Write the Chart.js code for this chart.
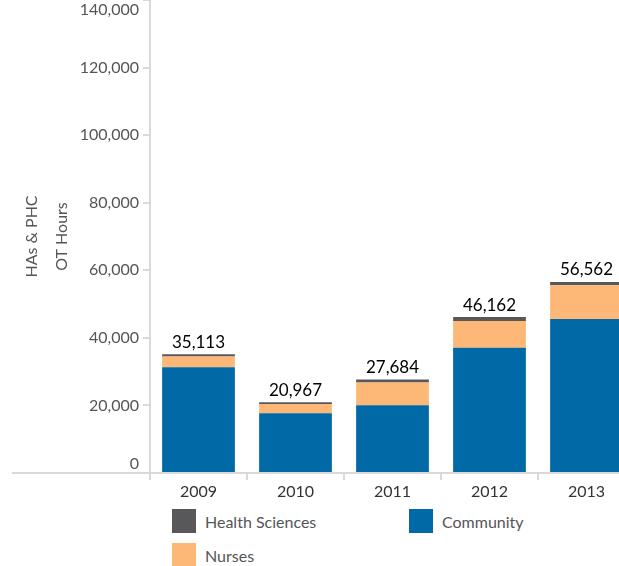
<!DOCTYPE html>
<html>
<head>
<meta charset="utf-8">
<script src="https://cdn.jsdelivr.net/npm/chart.js@4.4.1/dist/chart.umd.min.js"></script>
<style>
  body { margin: 0; overflow: hidden; background: #fff; font-family: Lato, sans-serif; }
  #wrap { position: relative; width: 640px; height: 566px; }
  #legend { position: absolute; left: 172px; top: 509px; display: grid; grid-template-columns: 237px 200px; row-gap: 10px; }
  .item { display: flex; align-items: center; height: 24px; font-size: 16px; color: #555; }
  .swatch { width: 24px; height: 24px; margin-right: 9px; }
</style>
</head>
<body>
<div id="wrap">
  <canvas id="chart" width="640" height="505"></canvas>
  <div id="legend"></div>
</div>
<script>
const years = ['2009', '2010', '2011', '2012', '2013'];
const community = [31300, 17700, 20050, 37070, 45580];
const nurses = [3200, 2750, 6750, 7930, 9980];
const healthSciences = [613, 517, 884, 1162, 1002];
const totals = [35113, 20967, 27684, 46162, 56562];
const yTicks = [0, 20000, 40000, 60000, 80000, 100000, 120000, 140000];

const colors = {
  community: '#0069a6',
  nurses: '#fdb877',
  health: '#58585a'
};

// x axis line keeps going left past the y axis
const axisStub = {
  id: 'axisStub',
  beforeDatasetsDraw(chart) {
    const { ctx, chartArea } = chart;
    ctx.save();
    ctx.strokeStyle = '#d9d9d9';
    ctx.lineWidth = 2;
    ctx.beginPath();
    ctx.moveTo(12, chartArea.bottom);
    ctx.lineTo(chartArea.left, chartArea.bottom);
    ctx.stroke();
    ctx.restore();
  }
};

// totals above each stack
const totalLabels = {
  id: 'totalLabels',
  afterDatasetsDraw(chart) {
    const { ctx } = chart;
    const meta = chart.getDatasetMeta(chart.data.datasets.length - 1);
    ctx.save();
    ctx.font = '17px Lato';
    ctx.fillStyle = '#000';
    ctx.textAlign = 'center';
    ctx.textBaseline = 'middle';
    meta.data.forEach((bar, i) => {
      ctx.fillText(totals[i].toLocaleString('en-US'), bar.x, bar.y - 12);
    });
    ctx.restore();
  }
};

const datasets = [
  { label: 'Community', data: community, backgroundColor: colors.community },
  { label: 'Nurses', data: nurses, backgroundColor: colors.nurses },
  { label: 'Health Sciences', data: healthSciences, backgroundColor: colors.health }
];

new Chart(document.getElementById('chart'), {
  type: 'bar',
  data: { labels: years, datasets: datasets },
  plugins: [axisStub, totalLabels],
  options: {
    responsive: false,
    animation: false,
    layout: { padding: { top: -4, right: 5, bottom: 2, left: 0 } },
    datasets: { bar: { barPercentage: 0.75, categoryPercentage: 1 } },
    plugins: { legend: { display: false }, tooltip: { enabled: false } },
    scales: {
      x: {
        stacked: true,
        border: { color: '#d9d9d9', width: 2 },
        grid: { drawOnChartArea: false, color: '#d9d9d9', tickLength: 7, lineWidth: 2 },
        ticks: { color: '#333', font: { family: 'Lato', size: 16 }, padding: 2 },
        afterFit(scale) { scale.height = 30; }
      },
      y: {
        stacked: true,
        min: 0,
        max: 140000,
        border: { color: '#d9d9d9', width: 2 },
        grid: { drawOnChartArea: false, color: '#d9d9d9', tickLength: 7, lineWidth: 2 },
        afterBuildTicks(scale) { scale.ticks = yTicks.map(v => ({ value: v })); },
        ticks: {
          color: '#555',
          padding: 4,
          font: { family: 'Lato', size: 16 },
          callback(value) {
            const s = value.toLocaleString('en-US');
            if (value === 0) return [s, ''];
            if (value === 140000) return ['', s];
            return s;
          }
        },
        title: {
          display: true,
          text: ['HAs & PHC', 'OT Hours'],
          color: '#555',
          font: { family: 'Lato', size: 16, lineHeight: 1.85 },
          padding: { top: 17, bottom: 0 }
        },
        afterFit(scale) {
          scale.width = 150;
          scale.paddingTop = 0;
          scale.paddingBottom = 0;
        }
      }
    }
  }
});

// legend in the same order as the picture
const legendOrder = [datasets[2], datasets[0], datasets[1]];
const legend = document.getElementById('legend');
legendOrder.forEach(ds => {
  const item = document.createElement('div');
  item.className = 'item';
  item.innerHTML = '<span class="swatch" style="background:' + ds.backgroundColor + '"></span>' + ds.label;
  legend.appendChild(item);
});
</script>
</body>
</html>
